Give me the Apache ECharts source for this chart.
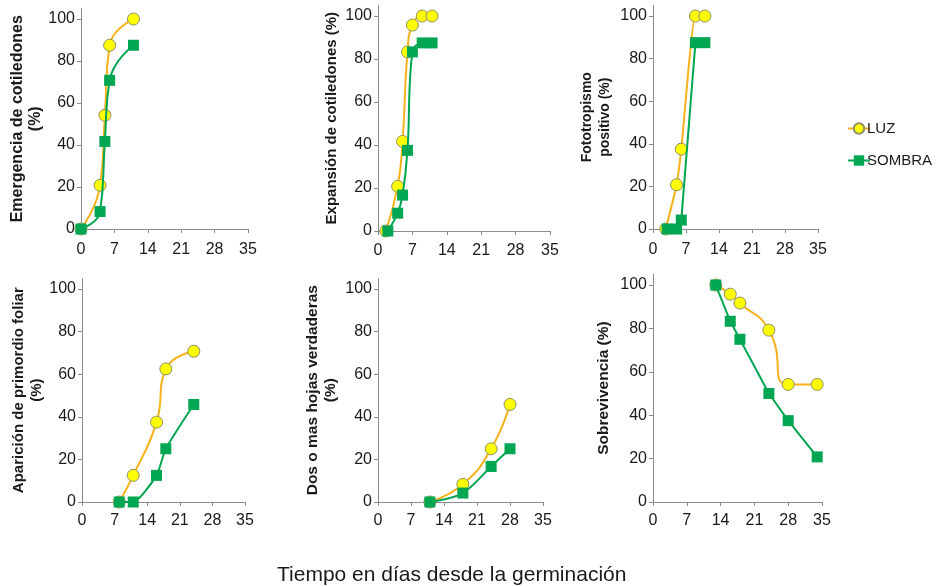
<!DOCTYPE html>
<html>
<head>
<meta charset="utf-8">
<script src="https://cdn.jsdelivr.net/npm/echarts@6/dist/echarts.min.js"></script>
<style>
  html, body { margin: 0; padding: 0; background: #fff; }
  #chart { width: 942px; height: 587px; }
</style>
</head>
<body>
<div id="chart"></div>
<script>
// [dia, %]
const emergenciaLuz = [[0, 0], [4, 20.8], [5, 54.2], [6, 87.5], [11, 100]];
const emergenciaSombra = [[0, 0], [4, 8.3], [5, 41.7], [6, 70.8], [11, 87.5]];
const expansionLuz = [[1.6, 0], [4, 20.8], [5, 41.7], [6, 83.3], [7, 95.8], [9, 100], [11, 100]];
const expansionSombra = [[2, 0], [4, 8.3], [5, 16.7], [6, 37.5], [7, 83.3], [9, 87.5], [11, 87.5]];
const fototropismoLuz = [[2.7, 0], [5, 20.8], [6, 37.5], [9, 100], [11, 100]];
const fototropismoSombra = [[3, 0], [5, 0], [6, 4.2], [9, 87.5], [11, 87.5]];
const primordioLuz = [[8, 0], [11, 12.5], [16, 37.5], [18, 62.5], [24, 70.8]];
const primordioSombra = [[8, 0], [11, 0], [16, 12.5], [18, 25], [24, 45.8]];
const hojasLuz = [[11, 0], [18, 8.3], [24, 25], [28, 45.8]];
const hojasSombra = [[11, 0], [18, 4.2], [24, 16.7], [28, 25]];
const sobrevivenciaLuz = [[13, 100], [16, 95.8], [18, 91.7], [24, 79.2], [28, 54.2], [34, 54.2]];
const sobrevivenciaSombra = [[13, 100], [16, 83.3], [18, 75], [24, 50], [28, 37.5], [34, 20.8]];

const yTicks = [0, 20, 40, 60, 80, 100];
const xTicks = [0, 7, 14, 21, 28, 35];
const yNames = [
  'Emergencia de cotiledones\n(%)',
  'Expansión de cotiledones (%)',
  'Fototropismo\npositivo (%)',
  'Aparición de primordio foliar\n(%)',
  'Dos o mas hojas verdaderas\n(%)',
  'Sobrevivencia (%)'
];
const xTitle = 'Tiempo en días desde la germinación';

const panels = [
  { luz: emergenciaLuz, sombra: emergenciaSombra, smoothL: 0.5, smoothS: 0.5 },
  { luz: expansionLuz, sombra: expansionSombra, smoothL: 0.5, smoothS: 0.4 },
  { luz: fototropismoLuz, sombra: fototropismoSombra, smoothL: 0.15, smoothS: 0 },
  { luz: primordioLuz, sombra: primordioSombra, smoothL: 0.5, smoothS: 0.2 },
  { luz: hojasLuz, sombra: hojasSombra, smoothL: 0.5, smoothS: 0.3 },
  { luz: sobrevivenciaLuz, sombra: sobrevivenciaSombra, smoothL: 0.6, smoothS: 0 }
];

// grid boxes, y axis runs to 105 so the line sticks out above 100
const grids = [
  { left: 81, top: 8.5, width: 167, height: 220.5 },
  { left: 378, top: 5.3, width: 172, height: 225.7 },
  { left: 653, top: 5.4, width: 165, height: 223.6 },
  { left: 82, top: 278.4, width: 163, height: 223.6 },
  { left: 378, top: 278.4, width: 165, height: 223.6 },
  { left: 653, top: 274.2, width: 169, height: 227.8 }
];
const nameGaps = [30, 37, 39, 34, 38, 40];
const nameSizes = [16, 15, 14, 15, 15.5, 15.5];
const xLabelMargins = [13, 12, 13, 11, 11, 11];

const axisColor = '#8c8c8c';
const textColor = '#1a1a1a';
const luzLine = '#f5b21b';
const luzFill = '#ffff00';
const sombraColor = '#00a651';

const xAxes = [], yAxes = [], series = [];
panels.forEach((p, i) => {
  xAxes.push({
    type: 'value', gridIndex: i, min: 0, max: 35, interval: 7,
    axisLine: { show: true, lineStyle: { color: axisColor, width: 1 } },
    axisTick: { show: true, length: 4, lineStyle: { color: axisColor } },
    axisLabel: { color: textColor, fontSize: 16, fontFamily: 'Liberation Sans', margin: xLabelMargins[i],
      customValues: xTicks },
    splitLine: { show: false }
  });
  yAxes.push({
    type: 'value', gridIndex: i, min: 0, max: 105,
    name: yNames[i], nameLocation: 'middle', nameGap: nameGaps[i],
    nameTextStyle: { color: textColor, fontSize: nameSizes[i], fontWeight: 'bold',
      fontFamily: 'Liberation Sans', lineHeight: 18 },
    axisLine: { show: true, lineStyle: { color: axisColor, width: 1 } },
    axisTick: { show: true, length: 4, lineStyle: { color: axisColor }, customValues: yTicks },
    axisLabel: { color: textColor, fontSize: 16, fontFamily: 'Liberation Sans', margin: 6,
      customValues: yTicks },
    splitLine: { show: false }
  });
  series.push({
    name: 'LUZ', type: 'line', xAxisIndex: i, yAxisIndex: i, data: p.luz,
    smooth: p.smoothL, symbol: 'circle', symbolSize: 12,
    lineStyle: { color: luzLine, width: 2 },
    itemStyle: { color: luzFill, borderColor: '#8f8f6a', borderWidth: 1 },
    z: 2
  });
  series.push({
    name: 'SOMBRA', type: 'line', xAxisIndex: i, yAxisIndex: i, data: p.sombra,
    smooth: p.smoothS, symbol: 'rect', symbolSize: 11,
    lineStyle: { color: sombraColor, width: 2 },
    itemStyle: { color: sombraColor },
    z: 3
  });
});

const chart = echarts.init(document.getElementById('chart'), null, { renderer: 'canvas' });
chart.setOption({
  backgroundColor: '#ffffff',
  animation: false,
  grid: grids,
  xAxis: xAxes,
  yAxis: yAxes,
  series: series,
  legend: {
    data: ['LUZ', 'SOMBRA'],
    orient: 'vertical', left: 842, top: 116, itemGap: 17,
    itemWidth: 22, itemHeight: 13,
    textStyle: { color: textColor, fontSize: 15, fontFamily: 'Liberation Sans', padding: [0, 0, 0, -8] }
  },
  title: {
    text: xTitle, left: 272, top: 560,
    textStyle: { color: textColor, fontSize: 21, fontWeight: 'normal', fontFamily: 'Liberation Sans' }
  }
});
</script>
</body>
</html>
